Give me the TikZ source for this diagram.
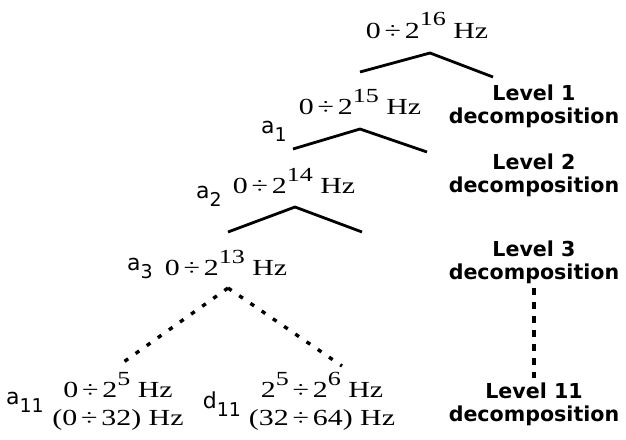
\documentclass[tikz,border=0pt]{standalone}
\usepackage{fontspec}
\setmainfont{Liberation Serif}[FakeStretch=1.3]
\newfontfamily\labelfont{DejaVu Sans}
\usetikzlibrary{positioning}
\newcommand\pw[1]{\raisebox{6pt}{\fontsize{10}{10}\selectfont #1}}
\newcommand\band[1]{0\,÷\,2\pw{#1}~Hz}
\newcommand\coefsub[2]{#1\raisebox{-4pt}{\fontsize{9.5}{9.5}\selectfont #2}}
\tikzset{
  freqtext/.style={font=\fontsize{11.5}{14}\selectfont, inner sep=0pt},
  coeflabel/.style={font=\labelfont\fontsize{11}{12}\selectfont, inner sep=0pt},
  levellabel/.style={
    font=\labelfont\bfseries\fontsize{10.3}{11.5}\selectfont,
    align=center, inner sep=2pt},
  branch/.style={line width=1.4pt},
  dotbranch/.style={line width=1.7pt, dash pattern=on 2.2pt off 4.6pt},
  levelline/.style={line width=1.6pt, dash pattern=on 3.5pt off 3.5pt}
}
\begin{document}
\begin{tikzpicture}[x=0.5pt, y=-0.5pt]
    \fill[white] (0,0) rectangle (626,439);
    \useasboundingbox (0,0) rectangle (626,439);

    % ---- frequency bands -----------------------------------------
    \node[freqtext, anchor=base] (f16) at (427,38)  {\band{16}};
    \node[freqtext, anchor=base] (f15) at (360,114) {\band{15}};
    \node[freqtext, anchor=base] (f14) at (294,193) {\band{14}};
    \node[freqtext, anchor=base] (f13) at (226,275) {\band{13}};
    \node[freqtext, anchor=base] (f5)  at (118,397) {\band{5}};
    \node[freqtext, anchor=base] (f5hz) at (118,425) {(0\,÷\,32)~Hz};
    \node[freqtext, anchor=base] (f6)  at (322,397) {2\pw{5}\,÷\,2\pw{6}~Hz};
    \node[freqtext, anchor=base] (f6hz) at (322,425) {(32\,÷\,64)~Hz};

    % ---- coefficient names ---------------------------------------
    \node[coeflabel] (a1)  at (274,131) {\coefsub{a}{1}};
    \node[coeflabel] (a2)  at (209,196) {\coefsub{a}{2}};
    \node[coeflabel] (a3)  at (140,268) {\coefsub{a}{3}};
    \node[coeflabel] (a11) at (25,402)  {\coefsub{a}{11}};
    \node[coeflabel] (d11) at (222,404) {\coefsub{d}{11}};

    % ---- branches ------------------------------------------------
    \coordinate (t1) at (430,53);  \coordinate (l1) at (360,72);  \coordinate (r1) at (493,77);
    \coordinate (t2) at (360,129); \coordinate (l2) at (293,149); \coordinate (r2) at (427,152);
    \coordinate (t3) at (295,207); \coordinate (l3) at (228,232); \coordinate (r3) at (362,232);
    \coordinate (t4) at (228,288); \coordinate (l4) at (118,366); \coordinate (r4) at (342,366);

    \draw[branch] (l1) -- (t1) -- (r1);
    \draw[branch] (l2) -- (t2) -- (r2);
    \draw[branch] (l3) -- (t3) -- (r3);
    \draw[dotbranch] (t4) -- (l4);
    \draw[dotbranch] (t4) -- (r4);

    % ---- level names ---------------------------------------------
    \node[levellabel] (lev1)  at (534,106) {Level 1\\decomposition};
    \node[levellabel] (lev2)  at (534,175) {Level 2\\decomposition};
    \node[levellabel] (lev3)  at (534,262) {Level 3\\decomposition};
    \node[levellabel] (lev11) at (534,404) {Level 11\\decomposition};

    \draw[levelline] (lev3.south) -- (lev11.north);

\end{tikzpicture}
\end{document}
